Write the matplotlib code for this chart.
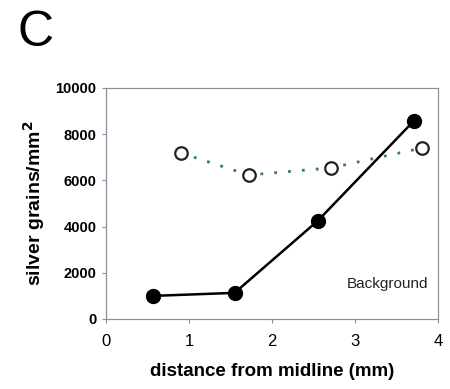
import matplotlib
matplotlib.use("Agg")
import matplotlib.pyplot as plt

plt.rcParams['font.family'] = ['Liberation Sans', 'DejaVu Sans']

# data
dist_filled = [0.57, 1.55, 2.55, 3.71]
grains_filled = [1000, 1130, 4240, 8570]
dist_open = [0.90, 1.72, 2.71, 3.81]
grains_open = [7190, 6230, 6540, 7400]
xticks = [0, 1, 2, 3, 4]
yticks = [0, 2000, 4000, 6000, 8000, 10000]

fig = plt.figure(figsize=(4.5, 3.89), dpi=100)
ax = fig.add_axes([0.2356, 0.18, 0.7374, 0.594])

ax.plot(dist_open, grains_open, linestyle=(0, (1, 4)), color='#3a7a6e', lw=2.0,
        marker='o', markersize=9, markerfacecolor='white', markeredgecolor='#222222',
        markeredgewidth=1.6, zorder=2)
ax.plot(dist_filled, grains_filled, '-', color='black', lw=1.8,
        marker='o', markersize=10, markerfacecolor='black', markeredgecolor='black', zorder=3)

ax.set_xlim(0, 4)
ax.set_ylim(0, 10000)
ax.set_xticks(xticks)
ax.set_yticks(yticks)
ax.set_xticklabels([str(t) for t in xticks], fontsize=12)
ax.set_yticklabels([str(t) for t in yticks], fontsize=10.5, fontweight='bold')
for s in ax.spines.values():
    s.set_color('#8a90a0')
    s.set_linewidth(0.9)
ax.tick_params(axis='both', direction='out', length=3, color='#8a90a0', width=0.8, pad=4)
ax.tick_params(axis='x', pad=8)

ax.set_xlabel('distance from midline (mm)', fontsize=13.5, fontweight='bold', labelpad=10)
ax.set_ylabel('silver grains/mm$^{\\mathbf{2}}$', fontsize=14, fontweight='bold', labelpad=6)

ax.text(0.97, 0.15, 'Background', transform=ax.transAxes, ha='right', va='center', fontsize=11,
        color='#222222')
fig.text(0.04, 0.915, 'C', fontsize=36, ha='left', va='center')

fig.savefig('out.png', dpi=100)
